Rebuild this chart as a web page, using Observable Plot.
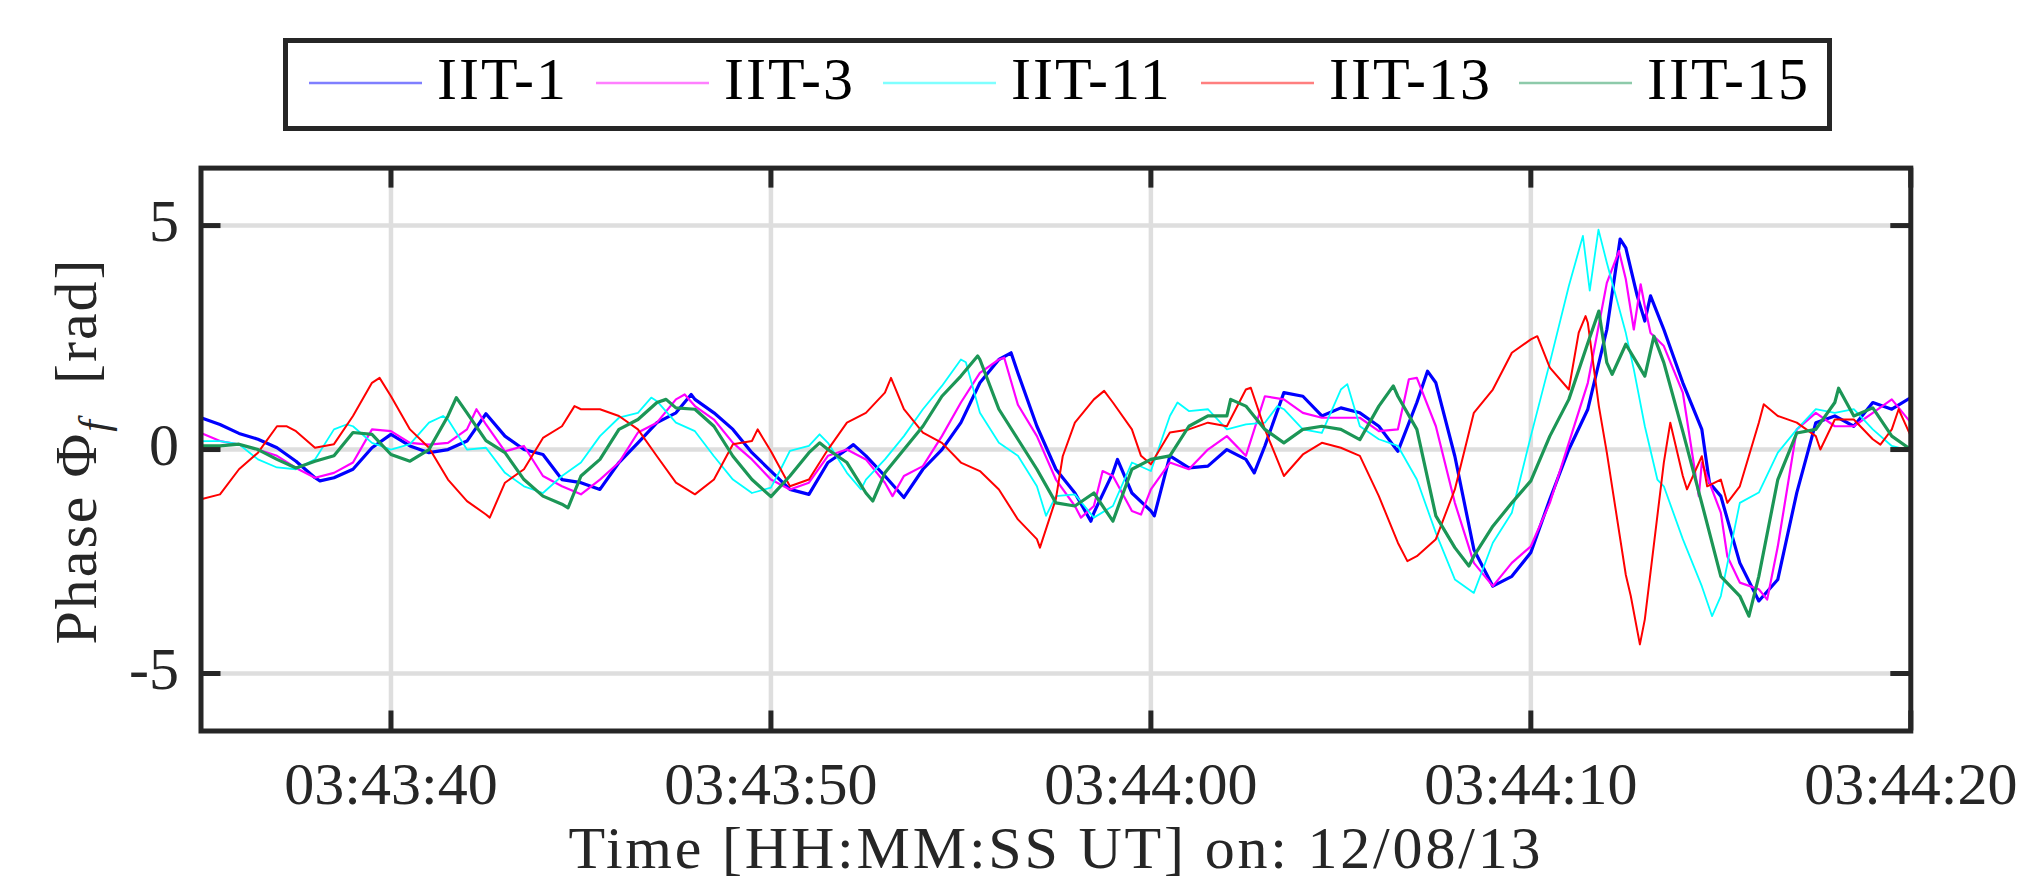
<!DOCTYPE html>
<html>
<head>
<meta charset="utf-8">
<script src="https://cdn.jsdelivr.net/npm/d3@7"></script>
<script src="https://cdn.jsdelivr.net/npm/@observablehq/plot@0.6"></script>
<style>
  html, body { margin: 0; padding: 0; background: #fff; }
  #wrap { position: relative; width: 2018px; height: 880px; overflow: hidden; background: #fff; }
  #legend { position: relative; width: 2018px; height: 150px; }
  #legend svg { position: absolute; left: 283px; top: 38px; }
  #chart svg { display: block; }
</style>
</head>
<body>
<div id="wrap"><div id="legend"></div><div id="chart"></div></div>
<script>
// ---------------- data ----------------
const obsDate = "2013-08-12";
const windowStart = "03:43:35";
const windowEnd = "03:44:20";
const seriesNames = ["IIT-1", "IIT-3", "IIT-11", "IIT-13", "IIT-15"];
const seriesColors = ["#0000ff", "#ff00ff", "#00ffff", "#ff0000", "#1c9656"];
const xTickLabels = ["03:43:40", "03:43:50", "03:44:00", "03:44:10", "03:44:20"];
const yTickValues = [-5, 0, 5];
const yTickLabels = ["-5", "0", "5"];
const xLabel = "Time [HH:MM:SS UT] on: 12/08/13";

// [seconds after 03:43:35 UT, phase in rad]
const iit1 = [[0,0.71],[0.5,0.56],[1,0.36],[1.5,0.23],[2,0.04],[2.5,-0.26],[3,-0.63],[3.13,-0.70],[3.5,-0.63],[4,-0.44],[4.5,0.04],[5,0.34],[5.5,0.08],[6,-0.07],[6.5,0.0],[7,0.19],[7.5,0.8],
[8,0.30],[8.5,0.0],[9,-0.11],[9.5,-0.67],[10,-0.74],[10.5,-0.89],[11,-0.29],[11.5,0.15],[12,0.6],[12.5,0.82],[12.9,1.23],[13,1.12],[13.5,0.82],[14,0.45],[14.5,-0.07],[15,-0.48],
[15.5,-0.89],[16,-1.0],[16.5,-0.29],[17,0.0],[17.17,0.11],[17.5,-0.14],[18,-0.59],[18.5,-1.07],[19,-0.44],[19.5,0.0],[20,0.6],[20.5,1.49],[21,2.01],[21.32,2.16],[21.5,1.71],[22,0.52],[22.5,-0.44],
[23,-0.97],[23.42,-1.6],[23.5,-1.41],[24,-0.52],[24.12,-0.22],[24.5,-0.97],[25,-1.37],[25.09,-1.48],[25.5,-0.14],[26,-0.41],[26.5,-0.37],[27,0.0],[27.5,-0.22],[27.72,-0.52],[28,0.08],[28.5,1.27],[29,1.19],[29.5,0.75],[30,0.93],
[30.5,0.82],[31,0.52],[31.5,-0.04],[32,1.05],[32.28,1.75],[32.5,1.49],[33,-0.15],[33.5,-2.23],[34,-3.05],[34.5,-2.83],[35,-2.30],[35.5,-1.11],[36,0.0],[36.5,0.9],[37,2.68],[37.35,4.7],[37.5,4.5],
[37.8,3.43],[38,2.87],[38.15,3.43],[38.5,2.68],[39,1.49],[39.5,0.45],[39.7,-0.74],[40,-1.04],[40.5,-2.53],[41,-3.38],[41.5,-2.90],[42,-0.96],[42.5,0.6],[43,0.75],[43.5,0.52],[44,1.05],[44.5,0.9],[45,1.16]];

const iit3 = [[0,0.37],[0.5,0.19],[1,0.11],[1.5,0.0],[2,-0.14],[2.5,-0.41],[3,-0.63],[3.5,-0.52],[4,-0.29],[4.5,0.45],[5,0.41],[5.5,0.15],[6,0.11],[6.5,0.15],[7,0.45],[7.25,0.9],[7.5,0.56],
[8,-0.04],[8.5,0.08],[9,-0.59],[9.5,-0.82],[10,-1.0],[10.5,-0.67],[11,-0.29],[11.5,0.38],[12,0.6],[12.5,1.12],[12.73,1.23],[13,0.97],[13.5,0.67],[14,0.15],[14.5,-0.22],[15,-0.67],
[15.5,-0.89],[16,-0.74],[16.5,-0.14],[17,0.0],[17.5,-0.22],[18,-0.74],[18.2,-1.04],[18.5,-0.59],[19,-0.37],[19.5,0.3],[20,1.05],[20.5,1.71],[21,2.01],[21.14,2.05],[21.5,1.0],[22,0.3],[22.5,-0.67],
[23,-1.26],[23.16,-1.52],[23.5,-1.26],[23.73,-0.48],[24,-0.59],[24.5,-1.37],[24.74,-1.45],[25,-0.89],[25.5,-0.29],[26,-0.44],[26.5,0.0],[27,0.3],[27.5,-0.14],[28,1.19],[28.5,1.12],[29,0.82],[29.5,0.71],[30,0.71],
[30.5,0.71],[31,0.41],[31.5,0.45],[31.79,1.57],[32,1.60],[32.5,0.52],[33,-1.19],[33.5,-2.53],[34,-3.05],[34.5,-2.53],[35,-2.16],[35.5,-1.19],[36,0.15],[36.5,1.49],[37,3.72],[37.32,4.43],[37.5,3.8],
[37.71,2.68],[37.89,3.69],[38,3.2],[38.15,2.6],[38.5,2.31],[39,1.27],[39.42,-1.04],[39.5,-0.29],[40,-1.41],[40.17,-2.38],[40.5,-2.97],[41,-3.12],[41.22,-3.35],[41.5,-2.16],[42,0.45],[42.5,0.82],[43,0.52],[43.5,0.52],[44,0.82],[44.5,1.12],[45,0.6]];

const iit11 = [[0,0.19],[0.5,0.19],[1,0.12],[1.5,-0.22],[2,-0.4],[2.5,-0.44],[3,-0.22],[3.5,0.45],[3.83,0.56],[4,0.52],[4.5,0.15],[5,0.0],[5.5,0.12],[6,0.6],[6.37,0.75],[6.5,0.67],[7,0.0],[7.5,0.04],
[8,-0.52],[8.5,-0.82],[9,-0.97],[9.5,-0.59],[10,-0.29],[10.5,0.3],[11,0.71],[11.5,0.82],[11.85,1.16],[12,1.08],[12.5,0.6],[13,0.41],[13.5,-0.15],[14,-0.67],[14.5,-0.97],[15,-0.85],
[15.25,-0.45],[15.5,-0.03],[16,0.08],[16.28,0.34],[16.5,0.15],[17,-0.52],[17.37,-0.89],[17.5,-0.67],[18,-0.22],[18.5,0.3],[19,0.9],[19.5,1.42],[20,2.01],[20.13,1.95],[20.5,0.82],[21,0.15],[21.5,-0.14],[22,-0.82],[22.24,-1.48],[22.5,-1.04],
[23,-1.0],[23.5,-1.52],[24,-1.26],[24.5,-0.29],[25,-0.48],[25.5,0.75],[25.7,1.05],[26,0.86],[26.5,0.9],[27,0.45],[27.5,0.56],[28,0.6],[28.33,0.97],[28.5,0.9],[29,0.45],[29.5,0.37],[30,1.34],
[30.17,1.46],[30.5,0.52],[31,0.23],[31.5,0.08],[32,-0.67],[32.5,-1.86],[33,-2.90],[33.5,-3.2],[34,-2.08],[34.5,-1.41],[35,0.3],[35.5,1.94],[36,3.65],[36.37,4.77],[36.55,3.55],[36.78,4.91],[37,4.17],[37.5,2.6],
[37.71,1.79],[38,0.52],[38.33,-0.67],[38.5,-0.82],[39,-2.0],[39.5,-3.05],[39.77,-3.72],[40,-3.27],[40.5,-1.19],[41,-0.96],[41.5,-0.07],[42,0.45],[42.5,0.9],[43,0.82],[43.5,0.9],[44,0.45],[44.5,0.08],[45,-0.03]];

const iit13 = [[0,-1.11],[0.5,-1.0],[1,-0.44],[1.5,-0.07],[2,0.52],[2.26,0.52],[2.5,0.41],[3,0.04],[3.5,0.12],[4,0.75],[4.5,1.49],[4.7,1.6],[5,1.19],[5.5,0.45],[6,0.04],[6.5,-0.67],[7,-1.15],[7.5,-1.45],
[7.6,-1.52],[8,-0.74],[8.5,-0.44],[9,0.26],[9.5,0.52],[9.83,0.97],[10,0.9],[10.5,0.9],[11,0.75],[11.5,0.45],[12,-0.15],[12.5,-0.74],[13,-1.0],[13.5,-0.67],[14,0.12],[14.5,0.19],[14.65,0.45],[15,-0.04],
[15.5,-0.82],[16,-0.67],[16.5,0.0],[17,0.6],[17.5,0.82],[18,1.27],[18.16,1.6],[18.5,0.9],[19,0.38],[19.5,0.15],[20,-0.29],[20.5,-0.48],[21,-0.89],[21.5,-1.56],[22,-2.0],[22.08,-2.19],[22.5,-1.1],
[22.68,-0.15],[23,0.6],[23.5,1.12],[23.77,1.31],[24,1.05],[24.5,0.45],[24.74,-0.14],[25,-0.33],[25.5,0.38],[26,0.45],[26.5,0.6],[27,0.52],[27.5,1.34],[27.63,1.38],[28,0.45],[28.5,-0.59],[29,-0.11],[29.5,0.15],[30,0.04],
[30.5,-0.14],[31,-1.04],[31.5,-2.08],[31.75,-2.49],[32,-2.38],[32.5,-2.0],[33,-0.89],[33.5,0.82],[34,1.34],[34.5,2.16],[35,2.46],[35.17,2.53],[35.5,1.83],[36,1.34],[36.26,2.61],[36.44,2.98],[36.5,2.83],[36.79,0.97],[37,-0.07],[37.5,-2.8],
[37.63,-3.27],[37.87,-4.35],[38,-3.79],[38.5,-0.29],[38.67,0.6],[39,-0.59],[39.11,-0.89],[39.5,-0.15],[39.64,-0.82],[40,-0.67],[40.17,-1.19],[40.5,-0.82],[41,0.6],[41.13,1.01],[41.5,0.75],[42,0.6],[42.5,0.3],[42.62,0.0],[43,0.67],[43.5,0.67],[44,0.23],[44.2,0.11],[44.5,0.45],[44.68,0.9],[45,0.3]];

const iit15 = [[0,0.08],[0.5,0.08],[1,0.12],[1.5,0.0],[2,-0.22],[2.5,-0.41],[3,-0.26],[3.5,-0.14],[4,0.38],[4.5,0.34],[5,-0.11],[5.5,-0.26],[6,0.0],[6.5,0.75],[6.72,1.16],[7,0.82],[7.5,0.2],
[8,-0.07],[8.5,-0.67],[9,-1.04],[9.5,-1.22],[9.66,-1.3],[10,-0.59],[10.5,-0.22],[11,0.45],[11.5,0.67],[12,1.05],[12.24,1.12],[12.5,0.93],[13,0.9],[13.5,0.52],[14,-0.15],[14.5,-0.67],[15,-1.05],
[15.5,-0.59],[16,-0.07],[16.28,0.15],[16.5,0.0],[17,-0.29],[17.5,-0.97],[17.68,-1.15],[18,-0.52],[18.5,0.0],[19,0.52],[19.5,1.19],[20,1.64],[20.44,2.09],[20.5,2.01],[21,0.9],[21.5,0.23],[22,-0.44],[22.5,-1.19],
[23,-1.26],[23.5,-0.97],[24,-1.6],[24.5,-0.44],[25,-0.22],[25.5,-0.14],[26,0.52],[26.5,0.75],[27,0.75],[27.1,1.12],[27.5,0.97],[28,0.45],[28.5,0.15],[29,0.45],[29.5,0.52],[30,0.45],
[30.5,0.22],[31,0.97],[31.38,1.42],[31.5,1.19],[32,0.45],[32.5,-1.48],[33,-2.19],[33.37,-2.6],[33.5,-2.38],[34,-1.71],[34.5,-1.19],[35,-0.7],[35.5,0.3],[36,1.12],[36.5,2.38],[36.79,3.09],[37,1.94],[37.14,1.68],[37.5,2.35],
[38,1.64],[38.24,2.53],[38.5,1.94],[39,0.4],[39.5,-1.2],[40,-2.83],[40.5,-3.27],[40.74,-3.72],[41,-2.83],[41.5,-0.67],[42,0.37],[42.5,0.45],[43,1.05],[43.1,1.37],[43.5,0.75],[44,0.93],[44.5,0.3],[45,0.0]];

const seriesValues = [iit1, iit3, iit11, iit13, iit15];

// ---------------- build ----------------
const FONT = "'Liberation Serif', 'Times New Roman', serif";
const INK = "#262626";
const toDate = hms => new Date(`${obsDate}T${hms}Z`);
const t0 = toDate(windowStart);
const t1 = toDate(windowEnd);
const xTicks = xTickLabels.map(toDate);

const rows = [];
seriesValues.forEach((arr, i) => {
  arr.forEach(([s, v]) => rows.push({name: seriesNames[i], time: new Date(+t0 + s * 1000), value: v}));
});

const W = 2018, H = 730;
const mT = 17.6, mB = 149.5, mL = 200.5, mR = 107.7;
const innerW = W - mL - mR, innerH = H - mT - mB;
const widths = {"IIT-1": 3.2, "IIT-3": 2.2, "IIT-11": 1.8, "IIT-13": 2.0, "IIT-15": 3.2};

const lineMarks = seriesNames.map((n, i) =>
  Plot.line(rows.filter(d => d.name === n), {
    x: "time", y: "value", stroke: seriesColors[i], strokeWidth: widths[n], clip: true
  })
);

const chart = Plot.plot({
  width: W, height: H,
  marginTop: mT, marginBottom: mB, marginLeft: mL, marginRight: mR,
  style: {fontFamily: FONT, fontSize: "60px", background: "white", color: INK, overflow: "visible"},
  x: {type: "utc", domain: [t0, t1], axis: null},
  y: {domain: [-2 * Math.PI, 2 * Math.PI], axis: null},
  marks: [
    Plot.ruleX(xTicks, {x: d => d, stroke: "#dedede", strokeWidth: 4.5}),
    Plot.ruleY(yTickValues, {y: d => d, stroke: "#dedede", strokeWidth: 4.5}),
    ...lineMarks,
    // inward tick marks on all four sides
    Plot.tickX(xTicks, {x: d => d, insetTop: innerH - 20, stroke: INK, strokeWidth: 5, strokeLinecap: "butt"}),
    Plot.tickX(xTicks, {x: d => d, insetBottom: innerH - 20, stroke: INK, strokeWidth: 5, strokeLinecap: "butt"}),
    Plot.tickY(yTickValues, {y: d => d, insetRight: innerW - 20, stroke: INK, strokeWidth: 5, strokeLinecap: "butt"}),
    Plot.tickY(yTickValues, {y: d => d, insetLeft: innerW - 20, stroke: INK, strokeWidth: 5, strokeLinecap: "butt"}),
    Plot.frame({stroke: INK, strokeWidth: 5}),
    Plot.axisX(xTicks, {
      anchor: "bottom", tickSize: 0, tickPadding: 30, label: null,
      tickFormat: d => xTickLabels[xTicks.findIndex(t => +t === +d)],
      fontSize: 60, fill: INK
    }),
    Plot.axisY(yTickValues, {
      anchor: "left", tickSize: 0, tickPadding: 22, label: null, dy: -4,
      tickFormat: d => yTickLabels[yTickValues.indexOf(d)],
      fontSize: 60, fill: INK
    }),
    Plot.text([xLabel], {text: d => d, frameAnchor: "bottom", dy: 137, lineAnchor: "bottom", fontSize: 60, fill: INK})
  ]
});

document.getElementById("chart").appendChild(chart);

// letter spacing to approximate the LaTeX font widths
d3.select(chart).selectAll("text").filter(function () { return this.textContent === xLabel; })
  .style("letter-spacing", "2.8px");

// rotated y-axis label with subscript
const ylab = d3.select(chart).append("text")
  .attr("transform", "translate(96,301) rotate(-90)")
  .attr("text-anchor", "middle")
  .attr("font-family", FONT)
  .attr("font-size", 60)
  .attr("fill", INK)
  .style("letter-spacing", "2px");
ylab.append("tspan").text("Phase \u03A6");
ylab.append("tspan").attr("font-style", "italic").attr("font-size", 42).attr("dy", 12).text("f");
ylab.append("tspan").attr("dy", -12).text("\u00a0\u00a0[rad]");

// legend box
const entryX = [26, 313, 600, 918, 1236];
const lsvg = d3.select("#legend").append("svg").attr("width", 1549).attr("height", 93);
lsvg.append("rect").attr("x", 2.5).attr("y", 2.5).attr("width", 1544).attr("height", 88)
  .attr("fill", "white").attr("stroke", INK).attr("stroke-width", 5);
seriesNames.forEach((n, i) => {
  lsvg.append("line").attr("x1", entryX[i]).attr("x2", entryX[i] + 113).attr("y1", 45).attr("y2", 45)
    .attr("stroke", seriesColors[i]).attr("stroke-width", 2.5).attr("stroke-opacity", 0.5);
  lsvg.append("text").attr("x", entryX[i] + 128).attr("y", 61).text(n)
    .attr("font-family", FONT).attr("font-size", 60).attr("fill", "#000").style("letter-spacing", "2px");
});
</script>
</body>
</html>
